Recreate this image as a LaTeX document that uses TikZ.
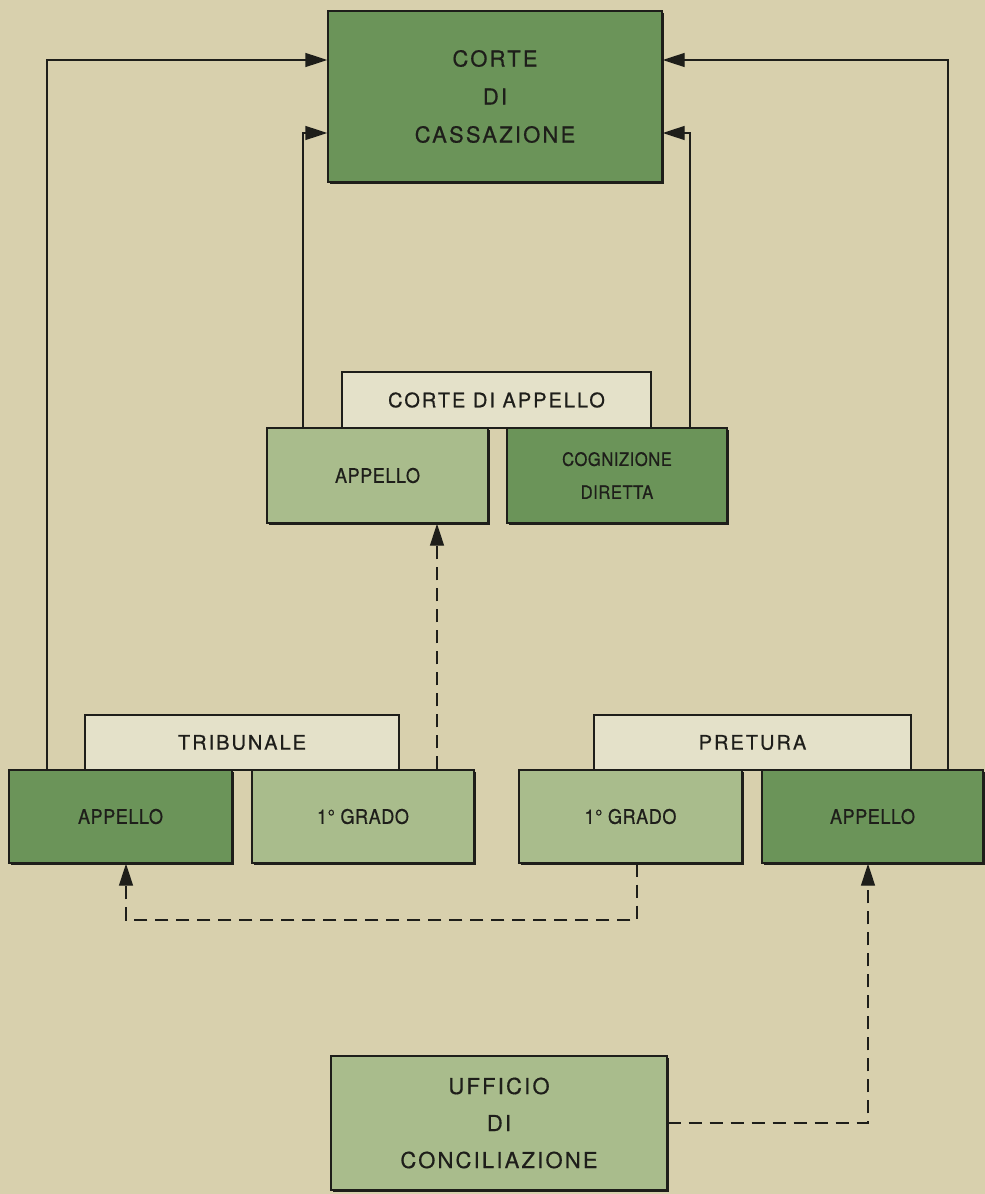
\documentclass[tikz,border=0pt]{standalone}
\usepackage{fontspec}
\setmainfont{TeX Gyre Heros}[LetterSpace=10,FakeBold=0.6]
\newfontfamily\narrowfont{TeX Gyre Heros}[LetterSpace=3,FakeStretch=0.9,FakeBold=0.6]
\usetikzlibrary{arrows.meta,shadows}
\definecolor{paper}{HTML}{D8D0AD}
\definecolor{darkgreen}{HTML}{6B9459}
\definecolor{lightgreen}{HTML}{A9BC8C}
\definecolor{headfill}{HTML}{E4E1C9}
\definecolor{ink}{HTML}{1E1E1A}
\tikzset{
  box/.style={draw=ink, line width=0.7pt, text=ink, align=center, inner sep=0pt,
    drop shadow={shadow xshift=1pt, shadow yshift=-1pt, opacity=1, fill=ink}},
  darkbox/.style={box, fill=darkgreen},
  lightbox/.style={box, fill=lightgreen},
  headbox/.style={draw=ink, line width=0.6pt, fill=headfill, text=ink, inner sep=0pt},
  arr/.style={draw=ink, line width=0.7pt, -{Triangle[length=11pt,width=7pt]}},
  darr/.style={arr, dash pattern=on 6.5pt off 4pt}
}
\begin{document}
\begin{tikzpicture}[x=0.5pt,y=-0.5pt]
\useasboundingbox[fill=paper] (0,0) rectangle (985,1194);
% draw corte di cassazione
\node[darkbox, minimum width=167pt, minimum height=85.5pt, font=\fontsize{11}{19}\selectfont]
  (cass) at (495,96.5) {CORTE\\DI\\CASSAZIONE};
% draw corte di appello
\node[headbox, minimum width=154.5pt, minimum height=28pt, font=\fontsize{10}{12}\selectfont]
  (cahead) at (496.5,400) {CORTE DI APPELLO};
\node[lightbox, minimum width=110.5pt, minimum height=47.5pt, font=\narrowfont\fontsize{10}{12}\selectfont]
  (caapp) at (377.5,475.5) {APPELLO};
\node[darkbox, minimum width=110pt, minimum height=47.5pt, font=\narrowfont\fontsize{9.2}{16.5}\selectfont]
  (cacog) at (617,475.5) {COGNIZIONE\\DIRETTA};
% draw tribunale
\node[headbox, minimum width=157pt, minimum height=27.5pt, font=\fontsize{10}{12}\selectfont]
  (thead) at (242,742.5) {TRIBUNALE};
\node[darkbox, minimum width=111.5pt, minimum height=46.5pt, font=\narrowfont\fontsize{10}{12}\selectfont]
  (tapp) at (120.5,816.5) {APPELLO};
\node[lightbox, minimum width=111pt, minimum height=46.5pt, font=\narrowfont\fontsize{10}{12}\selectfont]
  (tpri) at (363,816.5) {1° GRADO};
% draw pretura
\node[headbox, minimum width=158.5pt, minimum height=27.5pt, font=\fontsize{10}{12}\selectfont]
  (phead) at (752.5,742.5) {PRETURA};
\node[lightbox, minimum width=111.5pt, minimum height=46.5pt, font=\narrowfont\fontsize{10}{12}\selectfont]
  (ppri) at (630.5,816.5) {1° GRADO};
\node[darkbox, minimum width=110.5pt, minimum height=46.5pt, font=\narrowfont\fontsize{10}{12}\selectfont]
  (papp) at (872.5,816.5) {APPELLO};
% draw ufficio di conciliazione
\node[lightbox, minimum width=168pt, minimum height=67pt, font=\fontsize{11}{18.5}\selectfont]
  (uff) at (499,1123) {UFFICIO\\DI\\CONCILIAZIONE};
% corner points of the connectors
\coordinate (outl) at (47,60);
\coordinate (outr) at (948,60);
\coordinate (inl) at (303,133);
\coordinate (inr) at (690,133);
\coordinate (up) at (437,0);
\coordinate (low) at (637,920);
\coordinate (tx) at (126,0);
\coordinate (px) at (868,0);
% draw solid connectors
\draw[arr] (tapp.north -| outl) |- (cass.west |- outl);
\draw[arr] (papp.north -| outr) |- (cass.east |- outr);
\draw[arr] (caapp.north -| inl) |- (cass.west |- inl);
\draw[arr] (cacog.north -| inr) |- (cass.east |- inr);
% draw dashed connectors
\draw[darr] (tpri.north -| up) -- (caapp.south -| up);
\draw[darr] (ppri.south -| low) -- (low) -| (tapp.south -| tx);
\draw[darr] (uff.east) -| (papp.south -| px);
\end{tikzpicture}
\end{document}
